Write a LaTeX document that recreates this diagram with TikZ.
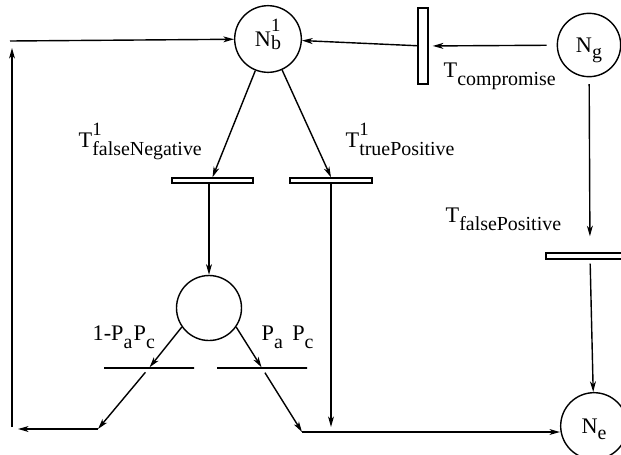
\documentclass[tikz,border=0pt]{standalone}
\usepackage{fontspec}
\setmainfont{Liberation Serif}
\usetikzlibrary{arrows.meta}
% label with subscript and optional superscript
\newcommand{\tlab}[3]{#1\rlap{\raisebox{10pt}{\fontsize{16}{16}\selectfont #3}}\raisebox{-7pt}{\fontsize{17}{17}\selectfont #2}}

\begin{document}
\begin{tikzpicture}[x=0.3mm, y=-0.3mm, line width=1.2pt,
  placenode/.style={draw, circle, minimum size=19.5mm, inner sep=0pt,
    text height=12.5pt, text depth=0pt, font=\fontsize{19}{22}\selectfont},
  transbox/.style={draw, rectangle, minimum height=1.5mm, inner sep=0pt},
  splitbar/.style={draw, rectangle, minimum width=27mm, minimum height=0mm, inner sep=0pt},
  lbl/.style={font=\fontsize{19}{22}\selectfont, inner sep=0pt, anchor=base west},
  flow/.style={-{Stealth[length=9pt, width=5pt, inset=2.5pt]}}]

\useasboundingbox (0,0) rectangle (621,454);

% --- Places ---
\node[placenode, minimum size=20mm] (nb) at (268,39)
  {N\rlap{\raisebox{13pt}{\fontsize{16}{16}\selectfont 1}}\raisebox{-3pt}{\fontsize{17}{17}\selectfont b}};
\node[placenode, minimum size=19mm] (ng) at (589,45) {N\raisebox{-5pt}{\fontsize{17}{17}\selectfont g}};
\node[placenode] (mid) at (209,308) {};
\node[placenode, minimum size=20mm] (ne) at (594,426) {N\raisebox{-5pt}{\fontsize{17}{17}\selectfont e}};

% --- Transitions ---
\node[transbox, minimum width=24.3mm] (tfn) at (212.5,180.5) {};
\node[transbox, minimum width=24.6mm] (tp) at (331,180.5) {};
\node[transbox, minimum width=3mm, minimum height=22.8mm] (tc) at (423,46) {};
\node[transbox, minimum width=26.4mm, minimum height=1.8mm] (tfp) at (590,256) {};
\node[splitbar] (lbar) at (149,368) {};
\node[splitbar] (rbar) at (262,368) {};

% --- Free ends ---
\coordinate (lstart) at (10,41);
\coordinate (lbot) at (12,427);
\coordinate (ltop) at (12,48);
\coordinate (lcorner) at (98,429);
\coordinate (lret) at (18,429);
\coordinate (rcorner) at (302,432);
\coordinate (tpend) at (331,427);

% --- Arcs ---
\draw[flow] (lstart) -- (nb);
\draw[flow] (lbot) -- (ltop);
\draw[flow, shorten <=3mm, shorten >=1.2mm] (ng) -- (tc);
\draw[flow] (tc) -- (nb);
\draw[flow] (nb) -- (tfn.north);
\draw[flow] (nb) -- (tp.north);
\draw[flow] (tfn.south -| mid) -- (mid);
\draw[flow] (tp.south) -- (tpend);
\draw[flow] (mid.215) -- (lbar);
\draw[flow] (mid.325) -- (rbar);
\draw[flow, shorten <=4pt] (lbar) -- (lcorner);
\draw[flow] (lcorner) -- (lret);
\draw[flow, shorten <=4pt] (rbar) -- (rcorner);
\draw[flow] (rcorner) -- (rcorner -| ne.west);
\draw[flow, shorten <=2mm, shorten >=4.8mm] (ng) -- (tfp);
\draw[flow, shorten <=1.2mm] (tfp) -- (ne);

% --- Labels ---
\node[lbl] (lfn) at (78,147) {\tlab{T}{falseNegative}{1}};
\node[lbl] (ltp) at (345,147) {\tlab{T}{truePositive}{1}};
\node[lbl] (lcomp) at (443,77) {\tlab{T}{compromise}{}};
\node[lbl] (lfp) at (445,222) {\tlab{T}{falsePositive}{}};
\node[lbl] (lpl) at (92,340) {1-\tlab{P}{a}{}\hspace{1pt}\tlab{P}{c}{}};
\node[lbl] (lpr) at (261,340) {\tlab{P}{a}{}\hspace{8pt}\tlab{P}{c}{}};

\end{tikzpicture}
\end{document}
